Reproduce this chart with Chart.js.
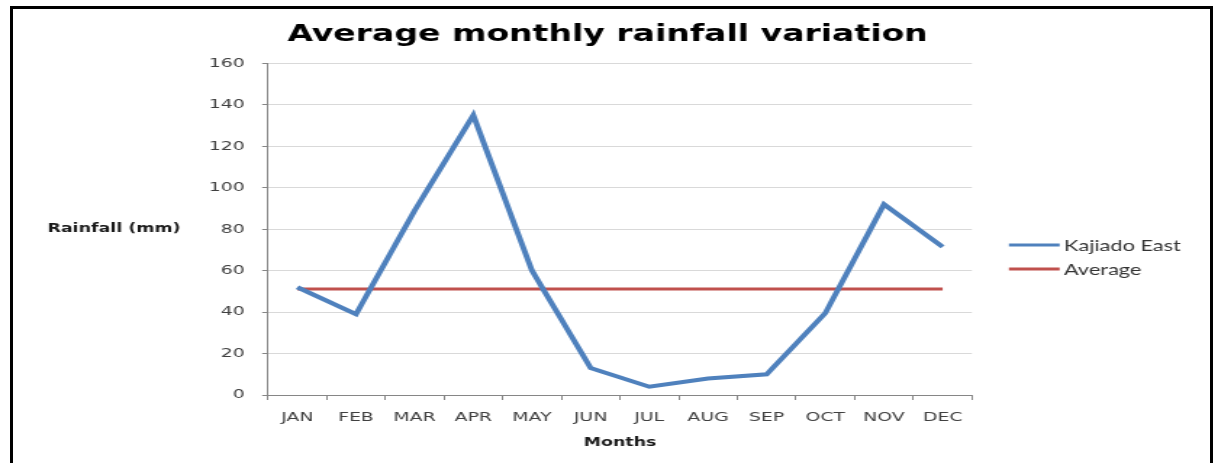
<!DOCTYPE html>
<html>
<head>
<meta charset="utf-8">
<script src="https://cdn.jsdelivr.net/npm/chart.js@4.4.1/dist/chart.umd.min.js"></script>
<style>
    html, body { margin: 0; padding: 0; background: #fff; overflow: hidden; }
    #frame {
        position: absolute; left: 10px; top: 6px;
        width: 1203px; height: 520px;
        box-sizing: border-box; border: 3px solid #000;
    }
    #wrap {
        position: absolute; left: 0; top: 0;
        width: 838px; height: 463px;
        transform: scaleX(1.45); transform-origin: 0 0;
    }
</style>
</head>
<body>
<div id="frame"></div>
<div id="wrap"><canvas id="rainChart" width="838" height="463"></canvas></div>
<script>
    const months = ['JAN', 'FEB', 'MAR', 'APR', 'MAY', 'JUN', 'JUL', 'AUG', 'SEP', 'OCT', 'NOV', 'DEC'];
    const kajiadoEast = [52, 39, 89, 135, 60, 13, 4, 8, 10, 39.5, 92, 71.5];
    const average = [51.2, 51.2, 51.2, 51.2, 51.2, 51.2, 51.2, 51.2, 51.2, 51.2, 51.2, 51.2];
    const yTicks = [0, 20, 40, 60, 80, 100, 120, 140, 160];

    const axisGray = '#868686';
    const textColor = '#404040';

    // y title is horizontal in the original, so draw it ourselves
    const yTitlePlugin = {
        id: 'yTitle',
        afterDraw(chart) {
            const ctx = chart.ctx;
            ctx.save();
            ctx.font = 'bold 12px "DejaVu Sans"';
            ctx.fillStyle = '#1a1a1a';
            ctx.textAlign = 'center';
            ctx.textBaseline = 'middle';
            ctx.fillText('Rainfall (mm)', 78.6, 229);
            ctx.restore();
        }
    };

    const legendPlugin = {
        id: 'sideLegend',
        afterDraw(chart) {
            const ctx = chart.ctx;
            const x0 = chart.chartArea.right + 25.5;
            ctx.save();
            ctx.font = '15px Lato';
            ctx.textBaseline = 'middle';
            chart.data.datasets.forEach((ds, i) => {
                const y = 245 + i * 24;
                ctx.strokeStyle = ds.borderColor;
                ctx.lineWidth = 3;
                ctx.beginPath();
                ctx.moveTo(x0, y);
                ctx.lineTo(x0 + 35, y);
                ctx.stroke();
                ctx.fillStyle = '#333';
                ctx.fillText(ds.label, x0 + 38, y + 1);
            });
            ctx.restore();
        }
    };

    const ctx = document.getElementById('rainChart').getContext('2d');
    const rainChart = new Chart(ctx, {
        type: 'line',
        data: {
            labels: months,
            datasets: [{
                label: 'Kajiado East',
                data: kajiadoEast,
                borderColor: '#4F81BD',
                backgroundColor: '#4F81BD',
                borderWidth: 4,
                pointRadius: 0,
                tension: 0
            },
            {
                label: 'Average',
                data: average,
                borderColor: '#C0504D',
                backgroundColor: '#C0504D',
                borderWidth: 3,
                pointRadius: 0,
                tension: 0
            }]
        },
        options: {
            responsive: false,
            animation: false,
            devicePixelRatio: 1,
            layout: { padding: 0 },
            scales: {
                x: {
                    offset: true,
                    grid: { offset: true, drawOnChartArea: false, drawTicks: true, tickLength: 5, color: axisGray },
                    border: { display: true, color: axisGray },
                    ticks: { color: textColor, font: { family: 'DejaVu Sans', size: 13 }, padding: 10, maxRotation: 0, autoSkip: false },
                    title: { display: true, text: 'Months', color: '#1a1a1a', font: { family: 'DejaVu Sans', size: 12, weight: 'bold' }, padding: { top: 4, bottom: 13 } },
                    afterFit: (scale) => { scale.height = 68; }
                },
                y: {
                    min: 0,
                    max: 160,
                    afterBuildTicks: (scale) => { scale.ticks = yTicks.map(v => ({ value: v })); },
                    grid: { color: '#D9D9D9', tickColor: axisGray, tickLength: 4 },
                    border: { display: true, color: axisGray },
                    ticks: { color: textColor, font: { family: 'DejaVu Sans', size: 13 }, padding: 12 },
                    afterFit: (scale) => { scale.width = 184.8; }
                },
                // empty right-hand band that holds the legend
                legendSpace: {
                    position: 'right',
                    display: true,
                    grid: { display: false, drawTicks: false },
                    border: { display: false },
                    ticks: { display: false },
                    afterFit: (scale) => { scale.width = 167.7; }
                }
            },
            plugins: {
                legend: { display: false },
                tooltip: { enabled: false },
                title: {
                    display: true,
                    text: 'Average monthly rainfall variation',
                    color: '#000',
                    font: { family: 'DejaVu Sans', size: 22.8, weight: 'bold' },
                    padding: { top: 21, bottom: 15 }
                }
            }
        },
        plugins: [yTitlePlugin, legendPlugin]
    });
</script>
</body>
</html>
